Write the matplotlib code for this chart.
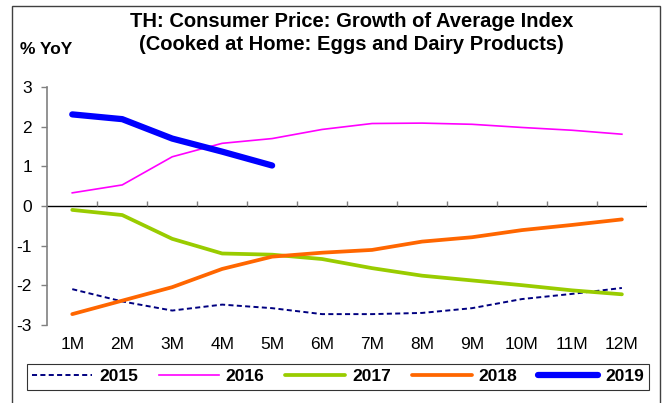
import matplotlib
matplotlib.use('Agg')
import matplotlib.pyplot as plt
from matplotlib.patches import Rectangle

plt.rcParams['font.family'] = ['Liberation Sans', 'DejaVu Sans']

months = ['1M', '2M', '3M', '4M', '5M', '6M', '7M', '8M', '9M', '10M', '11M', '12M']
y2015 = [-2.10, -2.41, -2.64, -2.49, -2.58, -2.73, -2.73, -2.70, -2.58, -2.35, -2.22, -2.07]
y2016 = [0.33, 0.53, 1.24, 1.58, 1.70, 1.93, 2.08, 2.09, 2.06, 1.98, 1.91, 1.81]
y2017 = [-0.10, -0.23, -0.83, -1.20, -1.23, -1.34, -1.57, -1.76, -1.88, -2.00, -2.13, -2.23]
y2018 = [-2.73, -2.39, -2.05, -1.59, -1.28, -1.18, -1.11, -0.90, -0.79, -0.61, -0.48, -0.34]
y2019 = [2.31, 2.19, 1.70, 1.37, 1.02]

fig = plt.figure(figsize=(6.64, 4.03), dpi=100)
ax = fig.add_axes([0.0712, 0.194, 0.903, 0.590])

x = list(range(len(months)))
ax.plot(x, y2015, color='#000080', lw=1.4, ls=(0, (2.6, 1.7)), label='2015')
ax.plot(x, y2016, color='#FF00FF', lw=1.2, label='2016')
ax.plot(x, y2017, color='#99CC00', lw=2.7, solid_capstyle='round', label='2017')
ax.plot(x, y2018, color='#FF6600', lw=2.7, solid_capstyle='round', label='2018')
ax.plot(x[:len(y2019)], y2019, color='#0000FF', lw=4.5, solid_capstyle='round', label='2019')

ax.set_xlim(-0.5, len(months) - 0.5)
ax.set_ylim(-3, 3)
ax.set_yticks([3, 2, 1, 0, -1, -2, -3])
ax.set_yticklabels(['3', '2', '1', '0', '-1', '-2', '-3'])
ax.tick_params(axis='y', length=4, width=1, color='#808080', labelsize=12.5, pad=7)

# month labels sit under the plot, the axis line runs through zero
ax.set_xticks(x)
ax.set_xticklabels(months)
ax.tick_params(axis='x', length=0, labelsize=12.5, pad=9)
ax.axhline(0, color='black', lw=1, zorder=1)
ax.vlines([i + 0.5 for i in x], 0, 0.13, color='#808080', lw=1, zorder=1)

for s in ['top', 'right', 'bottom']:
    ax.spines[s].set_visible(False)
ax.spines['left'].set_color('#808080')
ax.spines['left'].set_linewidth(1.2)

fig.text(0.529, 0.947, 'TH: Consumer Price: Growth of Average Index',
         ha='center', va='center', fontsize=14.5, fontweight='bold')
fig.text(0.529, 0.890, '(Cooked at Home: Eggs and Dairy Products)',
         ha='center', va='center', fontsize=14.5, fontweight='bold')
fig.text(0.030, 0.878, '% YoY', ha='left', va='center', fontsize=12.5, fontweight='bold')

leg = fig.legend(loc='center', bbox_to_anchor=(0.509, 0.065), ncol=5,
                 frameon=True, fancybox=False, handlelength=3.45, columnspacing=1.2,
                 handletextpad=0.4, borderpad=0.3, prop={'weight': 'bold', 'size': 12.5})
leg.get_frame().set_edgecolor('black')
leg.get_frame().set_linewidth(0.8)

fig.patches.append(Rectangle((12 / 664, -0.05), 648 / 664, 1.05 - 6 / 403,
                             transform=fig.transFigure, fill=False,
                             edgecolor='#404040', lw=1))

fig.savefig('out.png', dpi=100)
